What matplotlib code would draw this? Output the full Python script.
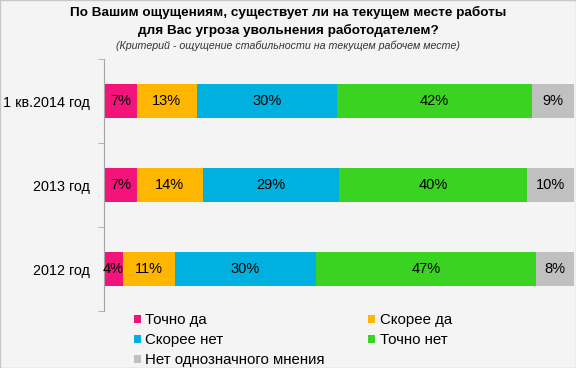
import matplotlib
matplotlib.use("Agg")
import matplotlib.pyplot as plt
from matplotlib.patches import Rectangle
import numpy as np

plt.rcParams['font.family'] = ['Liberation Sans', 'DejaVu Sans']

categories = ["1 кв.2014 год", "2013 год", "2012 год"]
series_names = ["Точно да", "Скорее да", "Скорее нет", "Точно нет", "Нет однозначного мнения"]
tochno_da = [7, 7, 4]
skoree_da = [13, 14, 11]
skoree_net = [30, 29, 30]
tochno_net = [42, 40, 47]
net_mneniya = [9, 10, 8]
colors = ["#F2137B", "#FFB600", "#00B0DE", "#3AD321", "#C0C0C0"]

title = "По Вашим ощущениям, существует ли на текущем месте работы\nдля Вас угроза увольнения работодателем?"
subtitle = "(Критерий - ощущение стабильности на текущем рабочем месте)"

bg = "#F4F4F4"
fig = plt.figure(figsize=(5.76, 3.68), dpi=100, facecolor=bg)
ax = fig.add_axes([104/576, 1-311/368, 470/576, 252/368])
ax.set_facecolor(bg)

series = [tochno_da, skoree_da, skoree_net, tochno_net, net_mneniya]
data = np.array(series, dtype=float)
totals = data.sum(axis=0)
shares = data / totals * 100
y = np.arange(len(categories))
left = np.zeros(len(categories))
handles = []
for name, vals, share, col in zip(series_names, series, shares, colors):
    bars = ax.barh(y, share, left=left, height=0.4, color=col, label=name, edgecolor='none')
    handles.append(bars)
    for yi, l, s, v in zip(y, left, share, vals):
        ax.text(l + s/2, yi, f"{v}%", ha='center', va='center', fontsize=10.5, color='black')
    left += share

ax.set_xlim(0, 100)
ax.set_ylim(len(categories)-0.5, -0.5)
ax.set_yticks(y)
ax.set_yticklabels(categories, fontsize=10.4)
ax.tick_params(axis='y', which='major', length=0, pad=10)
ax.set_yticks([-0.5, 0.5, 1.5, 2.5], minor=True)
ax.tick_params(axis='y', which='minor', length=4, color='#A6A6A6')
ax.set_xticks([])
for s in ['top', 'right', 'bottom']:
    ax.spines[s].set_visible(False)
ax.spines['left'].set_color('#A6A6A6')

fig.text(0.5, 1-21.5/368, title, ha='center', va='center', fontsize=9.7, fontweight='bold', linespacing=1.5)
fig.text(0.5, 1-46/368, subtitle, ha='center', va='center', fontsize=7.7, style='italic', color='#333333')

order = [0, 2, 4, 1, 3]
leg = fig.legend([handles[i] for i in order], [series_names[i] for i in order],
                 loc='upper left', bbox_to_anchor=(134/576, 1-313/368), ncol=2,
                 frameon=False, fontsize=10.8, handlelength=0.45, handleheight=0.45,
                 handletextpad=0.3, columnspacing=2.9, labelspacing=0.4, borderpad=0.0,
                 borderaxespad=0.0)

fig.patches.append(Rectangle((0, 0), 1, 1, transform=fig.transFigure, fill=False,
                             edgecolor='#C8C8C8', linewidth=1))
fig.savefig("out.png", dpi=100, facecolor=bg)
